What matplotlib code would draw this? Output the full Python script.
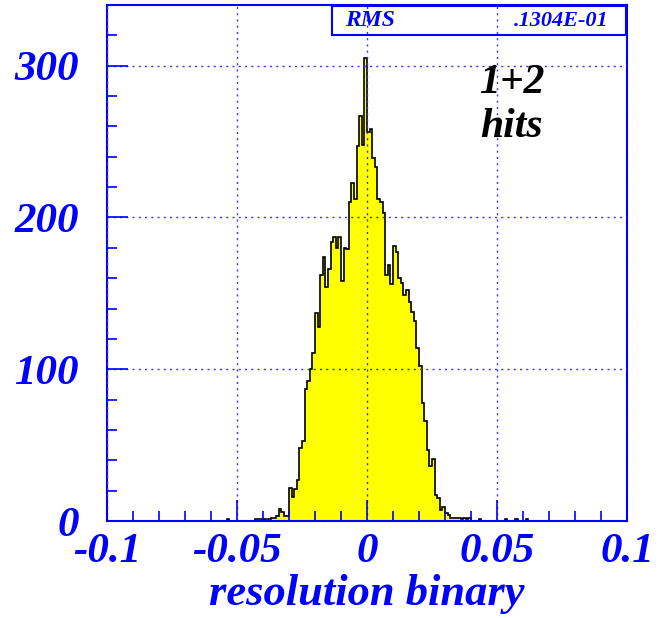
import numpy as np
import matplotlib
matplotlib.use('Agg')
import matplotlib.pyplot as plt
from matplotlib.ticker import MultipleLocator, FixedLocator

# histogram: 200 bins of 0.001 from -0.1 to 0.1
x_min, x_max = -0.1, 0.1
bin_counts = (
    [0] * 40
    + [0, 0, 0, 0, 0, 0, 1, 0, 0, 0, 0, 0, 0, 0, 0, 0, 0, 1, 1, 1]
    + [1, 0, 1, 2, 2, 3, 8, 6, 3, 3, 22, 16, 21, 27, 48, 53, 87, 92, 100, 111]
    + [137, 128, 162, 174, 154, 166, 184, 187, 180, 187,
       158, 180, 179, 210, 223, 212, 247, 267, 248, 305]
    + [256, 258, 239, 233, 212, 210, 203, 162, 169, 156,
       181, 177, 160, 157, 149, 152, 144, 138, 132, 114]
    + [102, 78, 66, 47, 36, 41, 17, 15, 7, 9, 5, 4, 2, 2, 2, 2, 1, 2, 1, 2]
    + [0, 0, 0, 1, 0, 0, 0, 0, 0, 0, 0, 0, 0, 1, 0, 0, 0, 1, 0, 0]
    + [0, 1] + [0] * 38
)
x_ticks = [-0.1, -0.05, 0, 0.05, 0.1]
x_tick_labels = ['-0.1', '-0.05', '0', '0.05', '0.1']
y_ticks = [0, 100, 200, 300]
stat_name = 'RMS'
stat_value = '.1304E-01'
note_text = '1+2\nhits'
x_title = 'resolution binary'

edges = np.linspace(x_min, x_max, len(bin_counts) + 1)
counts = np.array(bin_counts, dtype=float)

blue = '#0000ff'
font = dict(family='Liberation Serif', weight='bold', style='italic')

fig = plt.figure(figsize=(6.64, 6.18), dpi=100)
W, H = 664, 618
ax = fig.add_axes([107 / W, 1 - 521 / H, 520 / W, 516 / H])

ax.stairs(counts, edges, fill=True, color='#ffff00', zorder=1)
ax.stairs(counts, edges, color='black', lw=1.2, zorder=1.5)

ax.set_xlim(x_min, x_max)
ax.set_ylim(0, 340)

ax.xaxis.set_major_locator(FixedLocator(x_ticks))
ax.xaxis.set_minor_locator(MultipleLocator(0.01))
ax.yaxis.set_major_locator(FixedLocator(y_ticks))
ax.yaxis.set_minor_locator(MultipleLocator(20))
ax.set_xticklabels(x_tick_labels)

ax.tick_params(which='both', direction='in', color=blue, width=1.2,
               top=False, right=False, labelcolor=blue)
ax.tick_params(which='major', length=15, labelsize=31)
ax.tick_params(which='minor', length=7.5)
ax.tick_params(axis='x', which='major', pad=9)
ax.tick_params(axis='y', which='major', pad=20)
for lab in ax.get_xticklabels() + ax.get_yticklabels():
    lab.set_fontfamily('Liberation Serif')
    lab.set_fontweight('bold')
    lab.set_fontstyle('italic')

ax.set_axisbelow(False)
ax.grid(True, which='major', color='#3333ff', linestyle=(0, (1.5, 3)), lw=1.0)

for sp in ax.spines.values():
    sp.set_color(blue)
    sp.set_linewidth(1.5)

ax.set_xlabel(x_title, color=blue, fontsize=32, labelpad=2, **font)

# stats box
fig.patches.append(plt.Rectangle((332 / W, 1 - 35 / H), 294 / W, 29 / H,
                                 transform=fig.transFigure, fill=False,
                                 edgecolor=blue, lw=1.5))
fig.text(345 / W, 1 - 21 / H, stat_name, color=blue, fontsize=17,
         ha='left', va='center', **font)
fig.text(608 / W, 1 - 21 / H, stat_value, color=blue, fontsize=16,
         ha='right', va='center', **font)

ax.text(0.0555, 274, note_text, color='black', fontsize=30, ha='center',
        va='center', linespacing=1.2, **font)

fig.savefig('out.png', dpi=100)
